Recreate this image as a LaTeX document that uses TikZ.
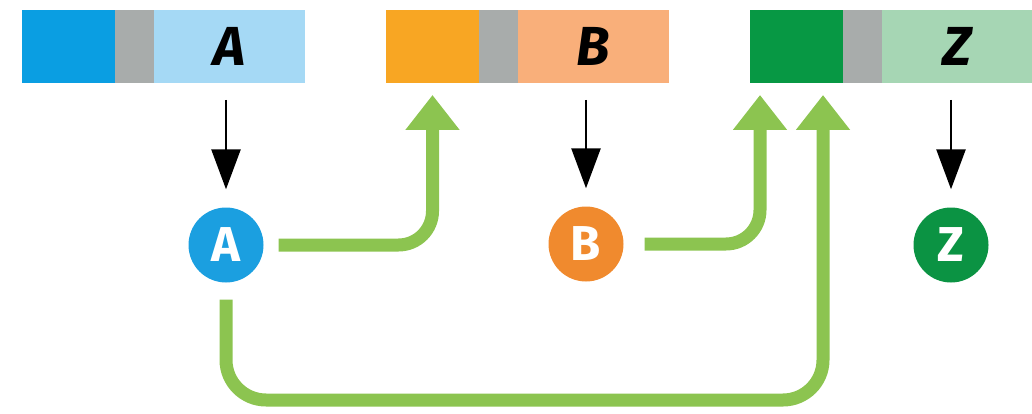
\documentclass[tikz,border=0pt]{standalone}
\usepackage{fontspec}
\setmainfont{Fira Sans}
\usetikzlibrary{arrows.meta,positioning}
\definecolor{blueD}{HTML}{0A9EE2}
\definecolor{blueL}{HTML}{A5D9F5}
\definecolor{orngD}{HTML}{F8A623}
\definecolor{orngL}{HTML}{F9AF7A}
\definecolor{grnD}{HTML}{079844}
\definecolor{grnL}{HTML}{A6D6B4}
\definecolor{greyM}{HTML}{A8ACAB}
\definecolor{blueC}{HTML}{1B9FE0}
\definecolor{orngC}{HTML}{F08A2E}
\definecolor{grnC}{HTML}{0B9343}
\definecolor{arrowG}{HTML}{8CC450}

\begin{document}
\begin{tikzpicture}[x=1pt,y=-1pt,
  seg/.style={inner sep=0pt,outer sep=0pt,minimum height=73pt,anchor=west},
  dk/.style={seg,minimum width=93pt},
  gr/.style={seg,minimum width=39pt,fill=greyM},
  lt/.style={seg,minimum width=151pt,font=\fontsize{55}{55}\selectfont\bfseries\itshape},
  ball/.style={circle,inner sep=0pt,minimum size=75pt,text=white,font=\fontsize{49}{49}\selectfont\bfseries},
  down/.style={line width=2.6pt,-{Triangle[width=29pt,length=40pt]},shorten <=17pt,shorten >=18pt},
  up/.style={draw=arrowG,line width=13pt,rounded corners=34pt,-{Triangle[width=52pt,length=35pt]},shorten >=12pt}]
\useasboundingbox (0,0) rectangle (1032,414);
\node[dk,fill=blueD] (Ad) at (22,46.5) {};
\node[gr,right=0pt of Ad] (Ag) {};
\node[lt,fill=blueL,right=0pt of Ag] (Al) {A};
\node[dk,fill=orngD] (Bd) at (386,46.5) {};
\node[gr,right=0pt of Bd] (Bg) {};
\node[lt,fill=orngL,right=0pt of Bg] (Bl) {B};
\node[dk,fill=grnD] (Zd) at (750,46.5) {};
\node[gr,right=0pt of Zd] (Zg) {};
\node[lt,fill=grnL,right=0pt of Zg] (Zl) {Z};
\node[ball,fill=blueC] (A) at (226,245) {A};
\node[ball,fill=orngC] (B) at (586,244) {B};
\node[ball,fill=grnC] (Z) at (951,245) {Z};
\coordinate (low) at (500,400);
\draw[down] (A |- Al.south) -- (A.north);
\draw[down] (B |- Bl.south) -- (B.north);
\draw[down] (Z |- Zl.south) -- (Z.north);
\draw[up,shorten <=15pt] (A.east) -| (Bd.south);
\draw[up,shorten <=21pt] (B.east) -| ([xshift=-36.5pt]Zd.south);
\draw[up,shorten <=17pt,rounded corners=40pt] (A.south) |- (low) -| ([xshift=26.5pt]Zd.south);
\end{tikzpicture}
\end{document}
